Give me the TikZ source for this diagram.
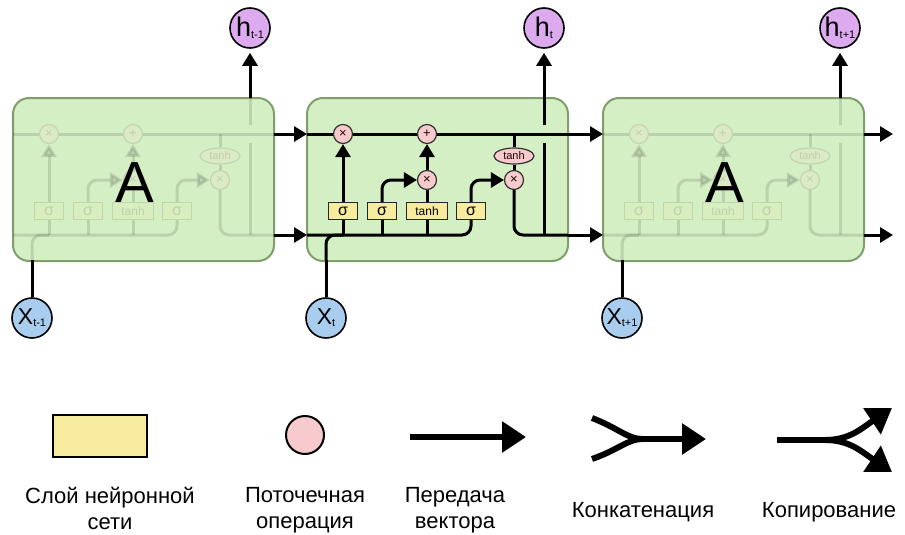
\documentclass[tikz,border=0pt]{standalone}
\usepackage{fontspec}
\setmainfont{Liberation Sans}
\usetikzlibrary{arrows.meta,shapes.geometric}
\definecolor{cellfill}{RGB}{213,239,196}
\definecolor{celldraw}{RGB}{128,158,108}
\definecolor{gatefill}{RGB}{247,235,158}
\definecolor{opfill}{RGB}{247,203,205}
\definecolor{hfill}{RGB}{221,170,240}
\definecolor{xfill}{RGB}{168,205,238}
\tikzset{
  wire/.style={line width=3pt, draw=black},
  arr/.style={-{Triangle[length=13pt,width=15pt]}},
  legw/.style={line width=6pt, draw=black},
  larr/.style={-{Triangle[length=24pt,width=30pt]}},
  cellbox/.style={draw=celldraw, line width=2pt, fill=cellfill, rounded corners=16pt,
    minimum width=261pt, minimum height=163pt, inner sep=0pt},
  gate/.style={draw=black!85, line width=1.3pt, fill=gatefill, minimum width=29pt,
    minimum height=17pt, inner sep=0pt, font=\fontsize{16}{16}\selectfont},
  opc/.style={circle, draw=black!80, line width=1.2pt, fill=opfill, minimum size=19pt,
    inner sep=0pt, font=\fontsize{13}{13}\selectfont, text=black!75!red!60!black},
  ope/.style={ellipse, draw=black!80, line width=1.2pt, fill=opfill, minimum width=40pt,
    minimum height=16pt, inner sep=0pt, font=\fontsize{11}{11}\selectfont, text=black!75!red!60!black},
  hnode/.style={circle, draw=black, line width=1.6pt, fill=hfill, minimum size=40pt, inner sep=0pt},
  xnode/.style={circle, draw=black, line width=1.6pt, fill=xfill, minimum size=40pt, inner sep=0pt},
  bigA/.style={font=\fontsize{58}{58}\selectfont, inner sep=0pt},
  legtext/.style={font=\fontsize{22}{26}\selectfont, align=center, inner sep=0pt},
}
\newcommand\circlab[3]{{\fontsize{#1}{#1}\selectfont #2}\raisebox{-2pt}{\fontsize{11}{11}\selectfont #3}}
\newcommand\lstminside{%
  \coordinate (cl) at (307,134);
  \coordinate (cr) at (568,134);
  \coordinate (bl) at (307,235);
  \coordinate (br) at (568,235);
  \coordinate (xin) at (326,260);
  \coordinate (hout) at (544,98);
  \coordinate (b1) at (343,235);
  \coordinate (b2) at (382,235);
  \coordinate (b3) at (427,235);
  \coordinate (b4) at (471,235);
  \coordinate (tc) at (514,134);
  \coordinate (hb) at (544,235);
  \coordinate (hg1) at (544,143);
  \coordinate (hg2) at (544,125);
  \node[gate] (g1) at (343,211) {σ};
  \node[gate] (g2) at (382,211) {σ};
  \node[gate, minimum width=41pt, font=\fontsize{12}{12}\selectfont] (g3) at (427,211) {tanh};
  \node[gate] (g4) at (471,211) {σ};
  \node[opc] (fx) at (343,134) {×};
  \node[opc] (px) at (427,134) {+};
  \node[opc] (ix) at (427,180) {×};
  \node[opc] (ox) at (514,180) {×};
  \node[ope] (th) at (514,156) {tanh};
  \draw[wire] (cl) -- (fx) -- (px) -- (cr);
  \draw[wire,rounded corners=9pt] (bl) -- (b4) -- (g4);
  \draw[wire,rounded corners=9pt] (xin) |- (b1);
  \draw[wire] (b1) -- (g1);
  \draw[wire] (b2) -- (g2);
  \draw[wire] (b3) -- (g3);
  \draw[wire,arr] (g1) -- (fx);
  \draw[wire,arr,rounded corners=9pt] (g2) |- (ix);
  \draw[wire] (g3) -- (ix);
  \draw[wire,arr] (ix) -- (px);
  \draw[wire,arr,rounded corners=9pt] (g4) |- (ox);
  \draw[wire] (tc) -- (th) -- (ox);
  \draw[wire,rounded corners=9pt] (ox) |- (br);
  \draw[wire] (hb) -- (hg1);
  \draw[wire] (hg2) -- (hout);
}
\begin{document}
\begin{tikzpicture}[x=1pt,y=-1pt]
\useasboundingbox (0,0) rectangle (905,535);
\fill[white] (0,0) rectangle (905,535);
% left cell
\begin{scope}[shift={(-294,0)}, name prefix=L-]
  \node[cellbox] (box) at (437.5,179.5) {};
  \begin{scope}[opacity=0.12]\lstminside\end{scope}
  \node[bigA] (A) at (429,183) {A};
\end{scope}
% middle cell
\begin{scope}[name prefix=M-]
  \node[cellbox] (box) at (437.5,179.5) {};
  \lstminside
\end{scope}
% right cell
\begin{scope}[shift={(296,0)}, name prefix=R-]
  \node[cellbox] (box) at (437.5,179.5) {};
  \begin{scope}[opacity=0.12]\lstminside\end{scope}
  \node[bigA] (A) at (429,183) {A};
\end{scope}
% connections between cells
\coordinate (e1) at (893,134);
\coordinate (e2) at (893,235);
\draw[wire,arr] (L-cr) -- (M-cl);
\draw[wire,arr] (L-br) -- (M-bl);
\draw[wire,arr] (M-cr) -- (R-cl);
\draw[wire,arr] (M-br) -- (R-bl);
\draw[wire,arr] (R-cr) -- (e1);
\draw[wire,arr] (R-br) -- (e2);
% outputs
\node[hnode] (hL) at (250,28) {\circlab{27}{h}{t-1}};
\node[hnode] (hM) at (544,28) {\circlab{27}{h}{t}};
\node[hnode] (hR) at (840,28) {\circlab{27}{h}{t+1}};
\draw[wire,arr,shorten >=4pt] (L-hout) -- (hL);
\draw[wire,arr,shorten >=4pt] (M-hout) -- (hM);
\draw[wire,arr,shorten >=4pt] (R-hout) -- (hR);
% inputs
\node[xnode] (xL) at (32,318) {\circlab{23}{X}{t-1}};
\node[xnode] (xM) at (326,318) {\circlab{23}{X}{t}};
\node[xnode] (xR) at (622,318) {\circlab{23}{X}{t+1}};
\draw[wire] (xL) -- (L-xin);
\draw[wire] (xM) -- (M-xin);
\draw[wire] (xR) -- (R-xin);
% legend
\node[draw=black, line width=2.2pt, fill=gatefill, minimum width=94pt, minimum height=42pt, inner sep=0pt] (lg1) at (100,436) {};
\node[circle, draw=black, line width=2pt, fill=opfill, minimum size=38pt, inner sep=0pt] (lg2) at (305,435) {};
\coordinate (va) at (410,437);
\coordinate (vb) at (526,437);
\draw[legw,larr] (va) -- (vb);
\coordinate (ca) at (592,418);
\coordinate (cb) at (592,459);
\coordinate (cm) at (642,439);
\coordinate (ce) at (706,439);
\draw[legw] (ca) .. controls (618,428) and (628,439) .. (cm);
\draw[legw] (cb) .. controls (618,450) and (628,439) .. (cm);
\draw[legw,larr] (cm) -- (ce);
\coordinate (pa) at (777,440);
\coordinate (pm) at (825,440);
\coordinate (pt) at (892,408);
\coordinate (pb) at (892,472);
\draw[legw] (pa) -- (pm);
\draw[legw,larr] (pm) .. controls (850,440) and (862,428) .. (pt);
\draw[legw,larr] (pm) .. controls (850,440) and (862,452) .. (pb);
\node[legtext, anchor=north] (t1) at (110,487) {Слой нейронной\\сети};
\node[legtext, anchor=north] (t2) at (305,487) {Поточечная\\операция};
\node[legtext, anchor=north] (t3) at (455,487) {Передача\\вектора};
\node[legtext, anchor=base] (t4) at (643,517) {Конкатенация};
\node[legtext, anchor=base] (t5) at (829,517) {Копирование};
\end{tikzpicture}
\end{document}
